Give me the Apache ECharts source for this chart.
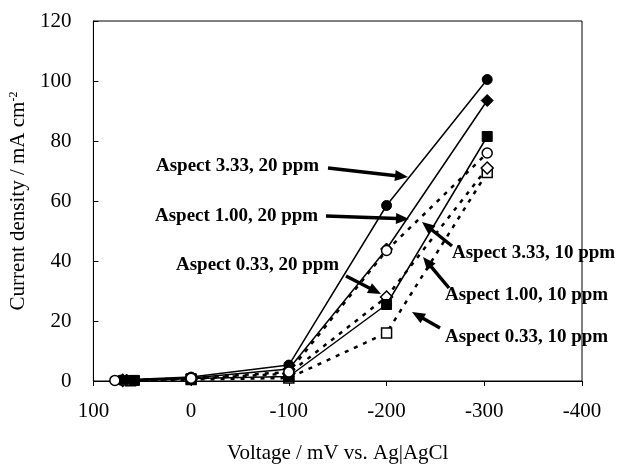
<!DOCTYPE html>
<html>
<head>
<meta charset="utf-8">
<script src="https://cdn.jsdelivr.net/npm/echarts@6/dist/echarts.min.js"></script>
<style>html,body{margin:0;padding:0;background:#fff}#c{width:620px;height:469px}</style>
</head>
<body>
<div id="c"></div>
<script>
// Voltage (mV vs Ag|AgCl) and current density (mA cm-2)
const xTicks = [100, 0, -100, -200, -300, -400];
const yTicks = [0, 20, 40, 60, 80, 100, 120];

const v333_20 = [72, 0, -100, -200, -303];
const j333_20 = [0.3, 1.3, 5.3, 58.5, 100.5];
const v100_20 = [66, 0, -100, -200, -303];
const j100_20 = [0.3, 1.0, 4.0, 44, 93.5];
const v033_20 = [58, 0, -100, -200, -303];
const j033_20 = [0.2, 0.8, 1.5, 25.5, 81.5];
const v333_10 = [78, 0, -100, -200, -303];
const j333_10 = [0.2, 0.9, 3.0, 43.5, 76];
const v100_10 = [70, 0, -100, -200, -303];
const j100_10 = [0.2, 0.7, 2.5, 28, 71];
const v033_10 = [62, 0, -100, -200, -303];
const j033_10 = [0.1, 0.5, 1.0, 16, 69.5];

const labels = ['Aspect 3.33, 20 ppm','Aspect 1.00, 20 ppm','Aspect 0.33, 20 ppm',
                'Aspect 3.33, 10 ppm','Aspect 1.00, 10 ppm','Aspect 0.33, 10 ppm'];

function pairs(v, j){ return v.map((x,i)=>[x, j[i]]); }

const FONT = '"Liberation Serif", "Times New Roman", serif';

function solid(name, v, j, sym){
  return {name, type:'line', data:pairs(v,j), symbol:sym, symbolSize: sym==='diamond'?12:10,
    lineStyle:{color:'#000', width:1.5, type:'solid'}, itemStyle:{color:'#000', borderColor:'#000', borderWidth:1},
    z:4, animation:false};
}
function dotted(name, v, j, sym, z){
  return {name, type:'line', data:pairs(v,j), symbol:sym, symbolSize: sym==='diamond'?12:10,
    lineStyle:{color:'#000', width:2.5, type:[4,6]}, itemStyle:{color:'#fff', borderColor:'#000', borderWidth:1.5},
    z:z||3, animation:false};
}

function arrow(x1,y1,x2,y2){
  const dx=x2-x1, dy=y2-y1, L=Math.hypot(dx,dy), ux=dx/L, uy=dy/L;
  const hl=13, hw=5.5;
  const bx=x2-ux*hl, by=y2-uy*hl;
  return [
    {type:'line', shape:{x1:x1,y1:y1,x2:bx+ux*1,y2:by+uy*1}, style:{stroke:'#000', lineWidth:3.5}, z:10},
    {type:'polygon', shape:{points:[[x2,y2],[bx-uy*hw, by+ux*hw],[bx+uy*hw, by-ux*hw]]}, style:{fill:'#000'}, z:10}
  ];
}
function label(text, x, y){
  return {type:'text', x:x, y:y, style:{text:text, fill:'#000', fontFamily:FONT, fontWeight:'bold', fontSize:19, verticalAlign:'middle', align:'left'}, z:10};
}

const graphics = [].concat(
  [label(labels[0], 156, 166)], arrow(328,168,408,177),
  [label(labels[1], 155, 216)], arrow(326,216,409,219),
  [label(labels[2], 176, 265)], arrow(346,276,381,294),
  [label(labels[3], 452, 253)], arrow(452,246,422,222),
  [label(labels[4], 445, 295)], arrow(449,288,423,257),
  [label(labels[5], 445, 337)], arrow(440,328,412,312)
);

const chart = echarts.init(document.getElementById('c'), null, {renderer:'canvas'});
chart.setOption({
  animation:false,
  backgroundColor:'#fff',
  grid:{left:91, right:38, top:21, bottom:88, show:true, borderColor:'#000', borderWidth:1, backgroundColor:'transparent'},
  xAxis:{type:'value', inverse:true, min:xTicks[xTicks.length-1], max:xTicks[0], interval:100,
    name:'Voltage / mV vs. Ag|AgCl', nameLocation:'middle', nameGap:62,
    nameTextStyle:{fontFamily:FONT, fontSize:21, color:'#000'},
    axisLine:{onZero:false, lineStyle:{color:'#000', width:1}}, axisTick:{show:true, inside:false, length:5, lineStyle:{color:'#000'}},
    axisLabel:{fontFamily:FONT, fontSize:21, color:'#000', margin:20},
    splitLine:{show:false}},
  yAxis:{type:'value', min:yTicks[0], max:yTicks[yTicks.length-1], interval:20,
    name:'{a|Current density / mA cm}{s|-2}', nameLocation:'middle', nameGap:51, nameRotate:90,
    nameTextStyle:{fontFamily:FONT, fontSize:21, color:'#000',
      rich:{a:{fontFamily:FONT, fontSize:21, color:'#000'}, s:{fontFamily:FONT, fontSize:12, color:'#000', verticalAlign:'top', padding:[0,0,8,0]}}},
    axisLine:{show:true, onZero:false, lineStyle:{color:'#000', width:1}}, axisTick:{show:true, inside:true, length:5, lineStyle:{color:'#000'}},
    axisLabel:{fontFamily:FONT, fontSize:21, color:'#000', margin:22},
    splitLine:{show:false}},
  series:[
    dotted(labels[5], v033_10, j033_10, 'rect'),
    dotted(labels[4], v100_10, j100_10, 'diamond'),
    solid(labels[2], v033_20, j033_20, 'rect'),
    solid(labels[1], v100_20, j100_20, 'diamond'),
    dotted(labels[3], v333_10, j333_10, 'circle', 5),
    solid(labels[0], v333_20, j333_20, 'circle')
  ],
  graphic: graphics
});
</script>
</body>
</html>
